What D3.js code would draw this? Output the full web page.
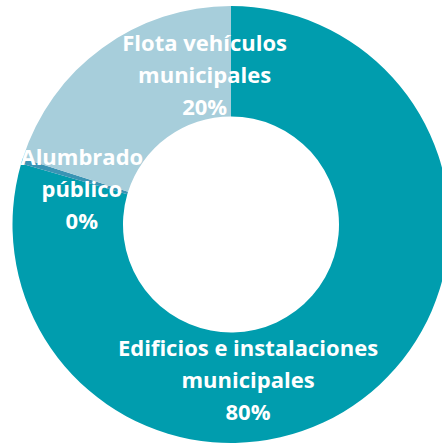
<!DOCTYPE html>
<html>
<head>
<meta charset="utf-8">
<script src="https://cdn.jsdelivr.net/npm/d3@7"></script>
<style>
  body { margin: 0; background: #fff; }
  svg { display: block; }
  .lbl { font-family: "Open Sans", Lato, sans-serif; font-weight: bold; font-size: 22px; fill: #fff; }
</style>
</head>
<body>
<div class="chart"></div>
<script>
// data
var categories = ["Edificios e instalaciones municipales", "Alumbrado público", "Flota vehículos municipales"];
var labelLines = [["Edificios e instalaciones", "municipales"], ["Alumbrado", "público"], ["Flota vehículos", "municipales"]];
var values = [79.5, 0.4, 20.1];
var pctLabels = ["80%", "0%", "20%"];
var colors = ["#009dae", "#3a94b4", "#a7cedb"];

var svgWidth = 442;
var svgHeight = 444;
var cx = 231, cy = 224.5;
var outerR = 218.5, innerR = 108;

// label nudges relative to arc centroid (excel-ish placement)
var labelShift = [[-81, 26], [7, 13], [70, -17]];
var lineH = 32;

var svg = d3.select(".chart")
  .append("svg")
  .attr("width", svgWidth)
  .attr("height", svgHeight);

var chartGroup = svg.append("g")
  .attr("transform", `translate(${cx}, ${cy})`);

var pie = d3.pie().sort(null).value(d => d);
var arcs = pie(values);

var arc = d3.arc().innerRadius(innerR).outerRadius(outerR);

chartGroup.selectAll("path")
  .data(arcs)
  .enter()
  .append("path")
  .attr("d", arc)
  .attr("fill", (d, i) => colors[i]);

var labelsGroup = chartGroup.selectAll("g.label")
  .data(arcs)
  .enter()
  .append("g")
  .attr("class", "label")
  .attr("transform", function (d, i) {
    var c = arc.centroid(d);
    return `translate(${c[0] + labelShift[i][0]}, ${c[1] + labelShift[i][1]})`;
  });

labelsGroup.each(function (d, i) {
  var g = d3.select(this);
  var lines = labelLines[i].concat([pctLabels[i]]);
  lines.forEach(function (t, j) {
    g.append("text")
      .attr("class", "lbl")
      .attr("text-anchor", "middle")
      .attr("x", 0)
      .attr("y", (j - 1) * lineH + 7)
      .text(t);
  });
});
</script>
</body>
</html>
